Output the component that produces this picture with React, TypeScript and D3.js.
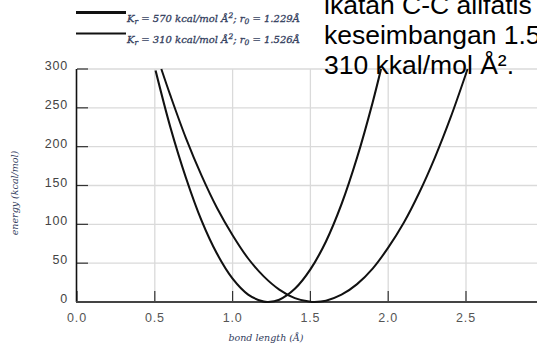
import React from "react";
import * as d3 from "d3";

// bond length (Å) and energy (kcal/mol)
const rStiff = [0.505, 0.6, 0.7, 0.8, 0.9, 1.0, 1.1, 1.2, 1.229, 1.3, 1.4, 1.5, 1.6, 1.7, 1.8, 1.9, 1.954];
const eStiff = [298, 225, 160, 105, 62, 30, 9.5, 0.5, 0, 3, 17, 42, 78, 126, 186, 257, 300];

const rSoft = [0.542, 0.6, 0.7, 0.8, 0.9, 1.0, 1.1, 1.2, 1.3, 1.4, 1.5, 1.526, 1.6, 1.7, 1.8, 1.9, 2.0, 2.1, 2.2, 2.3, 2.4, 2.5, 2.51];
const eSoft = [300, 266, 211, 163, 121, 86, 56, 33, 16, 5, 0.2, 0, 1.7, 9.4, 23, 43, 70, 102, 141, 186, 237, 294, 300];

const xTicks = [0, 0.5, 1.0, 1.5, 2.0, 2.5];
const yTicks = [0, 50, 100, 150, 200, 250, 300];

const legendLabels = [
  { k: "570", r0: "1.229" },
  { k: "310", r0: "1.526" },
];

const noteLines = ["ikatan C-C alifatis", "keseimbangan 1.5", "310 kkal/mol Å²."];

const W = 537;
const H = 354;

export default function App() {
  const x = d3.scaleLinear().domain([0, 3]).range([77, 77 + 3 * 155.6]);
  const y = d3.scaleLinear().domain([0, 300]).range([302, 69]);

  const line = d3
    .line<[number, number]>()
    .x((d) => x(d[0]))
    .y((d) => y(d[1]))
    .curve(d3.curveCatmullRom);

  const stiff = rStiff.map((r, i) => [r, eStiff[i]] as [number, number]);
  const soft = rSoft.map((r, i) => [r, eSoft[i]] as [number, number]);

  const titleFont = "'DejaVu Serif', 'Liberation Serif', serif";
  const titleColor = "#34405e";

  return (
    <svg
      width={W}
      height={H}
      style={{ position: "absolute", left: 0, top: 0, background: "#fff" }}
    >
      {/* grid */}
      {yTicks.slice(1).map((t) => (
        <line key={"gy" + t} x1={77} x2={W} y1={y(t)} y2={y(t)} stroke="#dadada" strokeWidth={1.3} />
      ))}
      {xTicks.slice(1).map((t) => (
        <line key={"gx" + t} x1={x(t)} x2={x(t)} y1={y(300)} y2={y(0)} stroke="#dadada" strokeWidth={1.3} />
      ))}

      {/* ticks */}
      {yTicks.map((t) => (
        <line key={"ty" + t} x1={77} x2={88} y1={y(t)} y2={y(t)} stroke="#333" strokeWidth={1.2} />
      ))}
      {xTicks.map((t) => (
        <line key={"tx" + t} x1={x(t)} x2={x(t)} y1={y(0)} y2={y(0) - 11} stroke="#333" strokeWidth={1.2} />
      ))}

      {/* axes */}
      <line x1={76.5} x2={76.5} y1={y(300)} y2={y(0)} stroke="#111" strokeWidth={1.6} />
      <line x1={76} x2={W} y1={y(0)} y2={y(0)} stroke="#444" strokeWidth={2} />

      {/* tick labels */}
      {yTicks.map((t) => (
        <text
          key={"ly" + t}
          x={68}
          y={y(t) + 1}
          textAnchor="end"
          fontFamily="'Liberation Sans', Arial, sans-serif"
          fontSize={12.5}
          letterSpacing={0.8}
          fill="#444"
        >
          {t}
        </text>
      ))}
      {xTicks.map((t) => (
        <text
          key={"lx" + t}
          x={x(t)}
          y={321.5}
          textAnchor="middle"
          fontFamily="'Liberation Sans', Arial, sans-serif"
          fontSize={12.5}
          letterSpacing={0.8}
          fill="#555"
        >
          {d3.format(".1f")(t)}
        </text>
      ))}

      {/* axis titles */}
      <text
        transform={`translate(18,193) rotate(-90)`}
        textAnchor="middle"
        fontFamily={titleFont}
        fontStyle="italic"
        fontSize={9.5}
        fill={titleColor}
      >
        energy (kcal/mol)
      </text>
      <text
        x={266}
        y={341}
        textAnchor="middle"
        fontFamily={titleFont}
        fontStyle="italic"
        fontSize={9.5}
        fill={titleColor}
      >
        bond length (Å)
      </text>

      {/* curves */}
      <path d={line(stiff) ?? ""} fill="none" stroke="#111" strokeWidth={2.1} />
      <path d={line(soft) ?? ""} fill="none" stroke="#111" strokeWidth={2} />

      {/* legend */}
      {legendLabels.map((l, i) => {
        const ly = i === 0 ? 12.5 : 33.5;
        const ty = i === 0 ? 22 : 43;
        return (
          <g key={"lg" + i}>
            <line x1={76} x2={126} y1={ly} y2={ly} stroke="#111" strokeWidth={i === 0 ? 3 : 2} />
            <text
              x={127}
              y={ty}
              fontFamily={titleFont}
              fontStyle="italic"
              fontSize={10}
              fill={titleColor}
              stroke={titleColor}
              strokeWidth={0.3}
            >
              K
              <tspan fontSize={7.5} dy={2}>r</tspan>
              <tspan dy={-2}>{` = ${l.k} kcal/mol Å`}</tspan>
              <tspan fontSize={7.5} dy={-4}>2</tspan>
              <tspan dy={4}>; r</tspan>
              <tspan fontSize={7.5} dy={2}>0</tspan>
              <tspan dy={-2}>{` = ${l.r0}Å`}</tspan>
            </text>
          </g>
        );
      })}

      {/* overlaid note text */}
      {noteLines.map((s, i) => (
        <text
          key={"n" + i}
          x={324}
          y={14 + i * 30}
          fontFamily="'Liberation Sans', Arial, sans-serif"
          fontSize={26.5}
          fill="#000"
        >
          {s}
        </text>
      ))}
    </svg>
  );
}
